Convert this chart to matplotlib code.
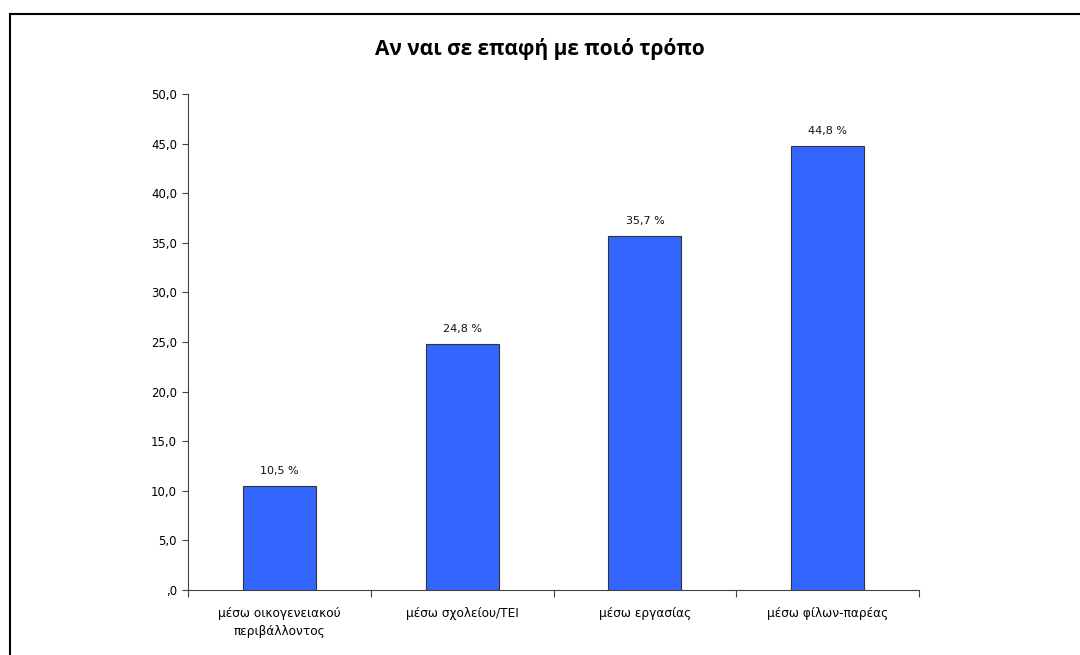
import matplotlib
matplotlib.use('Agg')
import matplotlib.pyplot as plt
from matplotlib.lines import Line2D

categories = ['μέσω οικογενειακού\nπεριβάλλοντος', 'μέσω σχολείου/ΤΕΙ',
              'μέσω εργασίας', 'μέσω φίλων-παρέας']
values = [10.5, 24.8, 35.7, 44.8]
yticks = [0, 5, 10, 15, 20, 25, 30, 35, 40, 45, 50]


def fmt_tick(v):
    s = '%.1f' % v
    s = s.replace('.', ',')
    if s.startswith('0'):
        s = s[1:]
    return s


plt.rcParams['font.family'] = ['DejaVu Sans']

fig = plt.figure(figsize=(10.8, 6.55), dpi=100)
ax = fig.add_axes([188 / 1080, 1 - 590 / 655, 731 / 1080, 496 / 655])

x = list(range(len(categories)))
ax.bar(x, values, width=0.4, color='#3366FF', edgecolor='#333333', linewidth=0.8)

for xi, v in zip(x, values):
    ax.text(xi, v + 1.0, ('%.1f' % v).replace('.', ',') + ' %',
            ha='center', va='bottom', fontsize=8, color='#111111')

ax.set_xlim(-0.5, len(categories) - 0.5)
ax.set_ylim(0, 50)
ax.set_yticks(yticks)
ax.set_yticklabels([fmt_tick(v) for v in yticks], fontsize=8.5)

# category labels between boundary ticks
ax.set_xticks([i - 0.5 for i in range(len(categories) + 1)])
ax.set_xticklabels([])
ax.set_xticks(x, minor=True)
ax.set_xticklabels(categories, minor=True, fontsize=8.7, linespacing=1.5)
ax.tick_params(axis='x', which='minor', length=0, pad=12)
ax.tick_params(axis='x', which='major', length=5, direction='out', color='#444444')
ax.tick_params(axis='y', length=4, direction='out', color='#444444', pad=4)

for side in ['top', 'right']:
    ax.spines[side].set_visible(False)
for side in ['left', 'bottom']:
    ax.spines[side].set_color('#444444')
    ax.spines[side].set_linewidth(0.8)

fig.text(0.5, 1 - 49 / 655, 'Αν ναι σε επαφή με ποιό τρόπο', ha='center', va='center',
         fontsize=15, fontweight='bold', family=['Open Sans', 'DejaVu Sans'])

# outer frame (left and top edges)
fig.add_artist(Line2D([9.5 / 1080, 9.5 / 1080], [0, 1 - 14 / 655], color='black', linewidth=1.5,
                      transform=fig.transFigure))
fig.add_artist(Line2D([9.5 / 1080, 1], [1 - 14 / 655, 1 - 14 / 655], color='black', linewidth=1.5,
                      transform=fig.transFigure))

fig.savefig('out.png', dpi=100)
